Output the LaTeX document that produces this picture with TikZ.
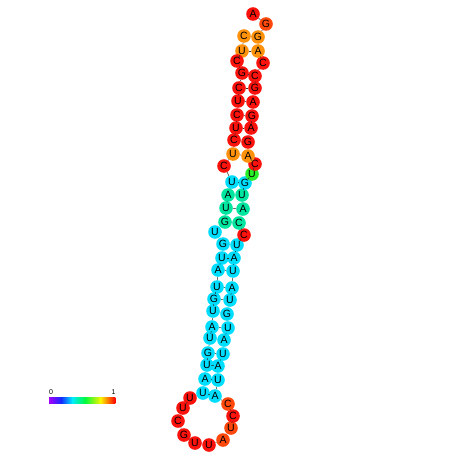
\documentclass[tikz,border=0pt]{standalone}
\usepackage{fontspec}
\setmainfont{Liberation Sans}
\usepackage{tikz}

\definecolor{nred}{RGB}{250,18,12}
\definecolor{nflame}{RGB}{255,72,12}
\definecolor{norange}{RGB}{255,146,12}
\definecolor{ngreen}{RGB}{40,238,40}
\definecolor{nmint}{RGB}{0,230,160}
\definecolor{ncyan}{RGB}{0,222,255}
\definecolor{bpurple}{RGB}{165,0,255}
\definecolor{bblue}{RGB}{20,40,255}
\definecolor{bcyan}{RGB}{0,235,255}
\definecolor{bgreen}{RGB}{0,250,60}
\definecolor{byellow}{RGB}{250,245,0}
\definecolor{bred}{RGB}{255,0,0}

\begin{document}
\begin{tikzpicture}[x=1pt,y=-1pt,
    base/.style={circle,inner sep=0pt,minimum size=13.6pt,
      font=\fontsize{10.5}{10.5}\selectfont},
    backbone/.style={line width=0.5pt,black!80},
    pair/.style={line width=0.5pt,black!80}]
    \useasboundingbox (0,0) rectangle (452,452);

    % 5' side of the stem
    \node[base,fill=norange] (n1) at (244,36) {C};
    \node[base,fill=norange] (n2) at (242,51) {U};
    \node[base,fill=nred] (n3) at (237,61) {C};
    \node[base,fill=nred] (n4) at (242,73) {G};
    \node[base,fill=nred] (n5) at (239,88) {C};
    \node[base,fill=nred] (n6) at (238,101) {U};
    \node[base,fill=nred] (n7) at (237,115) {C};
    \node[base,fill=nred] (n8) at (236,128) {U};
    \node[base,fill=nred] (n9) at (234,140) {C};
    \node[base,fill=norange] (n10) at (233,154) {U};
    \node[base,fill=nred] (n11) at (224,166) {C};
    \node[base,fill=ncyan] (n12) at (232,182) {U};
    \node[base,fill=nmint] (n13) at (228,195) {A};
    \node[base,fill=nmint] (n14) at (226,208) {U};
    \node[base,fill=nmint] (n15) at (225,222) {G};
    \node[base,fill=ncyan] (n16) at (215,232) {U};
    \node[base,fill=ncyan] (n17) at (223,244) {G};
    \node[base,fill=ncyan] (n18) at (222,258) {U};
    \node[base,fill=ncyan] (n19) at (218,270) {A};
    \node[base,fill=ncyan] (n20) at (217,287) {U};
    \node[base,fill=ncyan] (n21) at (214,299) {G};
    \node[base,fill=ncyan] (n22) at (213,311) {U};
    \node[base,fill=ncyan] (n23) at (212,327) {A};
    \node[base,fill=ncyan] (n24) at (210,338) {U};
    \node[base,fill=ncyan] (n25) at (208,353) {G};
    \node[base,fill=ncyan] (n26) at (207,365) {U};
    \node[base,fill=ncyan] (n27) at (205,379) {A};
    \node[base,fill=ncyan] (n28) at (203,393) {U};

    % hairpin loop
    \node[base,fill=nred] (n29) at (190,398) {U};
    \node[base,fill=nred] (n30) at (183,408) {U};
    \node[base,fill=nred] (n31) at (178,421) {C};
    \node[base,fill=nred] (n32) at (184,435) {G};
    \node[base,fill=nred] (n33) at (195,443) {U};
    \node[base,fill=nred] (n34) at (209,445) {U};
    \node[base,fill=nflame] (n35) at (223,440) {A};
    \node[base,fill=nflame] (n36) at (231,428) {U};
    \node[base,fill=nred] (n37) at (233,416) {C};
    \node[base,fill=nflame] (n38) at (228,404) {C};

    % 3' side of the stem
    \node[base,fill=ncyan] (n39) at (215,396) {A};
    \node[base,fill=ncyan] (n40) at (218,380) {U};
    \node[base,fill=ncyan] (n41) at (218,366) {A};
    \node[base,fill=ncyan] (n42) at (223,354) {U};
    \node[base,fill=ncyan] (n43) at (224,340) {A};
    \node[base,fill=ncyan] (n44) at (228,328) {U};
    \node[base,fill=ncyan] (n45) at (227,314) {G};
    \node[base,fill=ncyan] (n46) at (230,300) {U};
    \node[base,fill=ncyan] (n47) at (232,288) {A};
    \node[base,fill=ncyan] (n48) at (233,271) {U};
    \node[base,fill=ncyan] (n49) at (234,258) {A};
    \node[base,fill=ncyan] (n50) at (237,245) {U};
    \node[base,fill=nred] (n51) at (244,235) {C};
    \node[base,fill=nmint] (n52) at (239,223) {C};
    \node[base,fill=nmint] (n53) at (243,209) {A};
    \node[base,fill=nmint] (n54) at (242,195) {U};
    \node[base,fill=ncyan] (n55) at (245,183) {G};
    \node[base,fill=ngreen] (n56) at (252,174) {U};
    \node[base,fill=nred] (n57) at (255,164) {C};
    \node[base,fill=norange] (n58) at (248,156) {A};
    \node[base,fill=nred] (n59) at (248,142) {G};
    \node[base,fill=nred] (n60) at (251,128) {A};
    \node[base,fill=nred] (n61) at (252,116) {G};
    \node[base,fill=nred] (n62) at (253,102) {A};
    \node[base,fill=nred] (n63) at (255,88) {G};
    \node[base,fill=nred] (n64) at (255,76) {C};
    \node[base,fill=nred] (n65) at (263,63) {C};
    \node[base,fill=norange] (n66) at (258,51) {A};
    \node[base,fill=norange] (n67) at (258,37) {G};
    \node[base,fill=nflame] (n68) at (266,24) {G};
    \node[base,fill=nred] (n69) at (253,14) {A};

    \draw[backbone] (n1) -- (n2) -- (n3) -- (n4) -- (n5) -- (n6) -- (n7)
      -- (n8) -- (n9) -- (n10) -- (n11) -- (n12) -- (n13) -- (n14) -- (n15)
      -- (n16) -- (n17) -- (n18) -- (n19) -- (n20) -- (n21) -- (n22) -- (n23)
      -- (n24) -- (n25) -- (n26) -- (n27) -- (n28) -- (n29) -- (n30) -- (n31)
      -- (n32) -- (n33) -- (n34) -- (n35) -- (n36) -- (n37) -- (n38) -- (n39)
      -- (n40) -- (n41) -- (n42) -- (n43) -- (n44) -- (n45) -- (n46) -- (n47)
      -- (n48) -- (n49) -- (n50) -- (n51) -- (n52) -- (n53) -- (n54) -- (n55)
      -- (n56) -- (n57) -- (n58) -- (n59) -- (n60) -- (n61) -- (n62) -- (n63)
      -- (n64) -- (n65) -- (n66) -- (n67) -- (n68) -- (n69);

    \path[pair]
    (n1) edge (n67)
    (n2) edge (n66)
    (n4) edge (n64)
    (n5) edge (n63)
    (n6) edge (n62)
    (n7) edge (n61)
    (n8) edge (n60)
    (n9) edge (n59)
    (n10) edge (n58)
    (n12) edge (n55)
    (n13) edge (n54)
    (n14) edge (n53)
    (n15) edge (n52)
    (n17) edge (n50)
    (n18) edge (n49)
    (n19) edge (n48)
    (n20) edge (n47)
    (n21) edge (n46)
    (n22) edge (n45)
    (n23) edge (n44)
    (n24) edge (n43)
    (n25) edge (n42)
    (n26) edge (n41)
    (n27) edge (n40)
    (n28) edge (n39)
    ;

    % colour scale
    \foreach \xa/\xb/\ca/\cb in {49/61/bpurple/bblue,61/72/bblue/bcyan,
        72/85/bcyan/bgreen,85/100.5/bgreen/byellow,100.5/115/byellow/bred}
      \shade[left color=\ca,right color=\cb] (\xa,397) rectangle (\xb+0.3,403);
    \node[font=\fontsize{7}{7}\selectfont,inner sep=0pt] (lo) at (51,392.5) {0};
    \node[font=\fontsize{7}{7}\selectfont,inner sep=0pt] (hi) at (113.5,392.5) {1};
\end{tikzpicture}
\end{document}
